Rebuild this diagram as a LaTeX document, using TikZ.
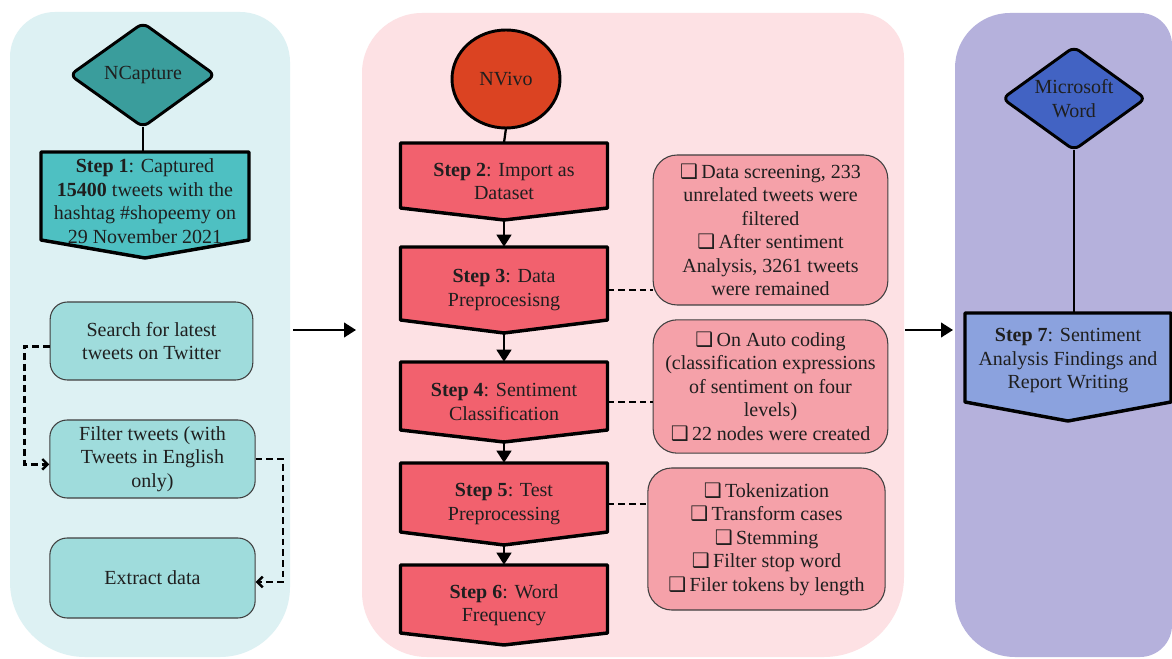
\documentclass[tikz,border=0pt]{standalone}
\usepackage{fontspec}
\setmainfont{Liberation Serif}
\newfontfamily\dvfont{DejaVu Sans}
\usetikzlibrary{arrows.meta,calc}
\definecolor{leftbg}{HTML}{DDF1F3}
\definecolor{midbg}{HTML}{FDE1E4}
\definecolor{rightbg}{HTML}{B5B1DC}
\definecolor{ncapc}{HTML}{3A9D9C}
\definecolor{stepone}{HTML}{4EC0C2}
\definecolor{softcyan}{HTML}{9FDCDC}
\definecolor{nvivoc}{HTML}{DB4322}
\definecolor{stepred}{HTML}{F2616E}
\definecolor{notec}{HTML}{F5A1A9}
\definecolor{wordc}{HTML}{4263C3}
\definecolor{stepblue}{HTML}{8BA2DE}
\newcommand\chk{{\dvfont\fontsize{15}{15}\selectfont\char"2751}\,}
\tikzset{
  txt/.style={font=\fontsize{15}{17.6}\selectfont, text=black!88, align=center},
  stepline/.style={draw=black, line width=2.6pt, line join=round},
  shapeline/.style={draw=black, line width=2.2pt, line join=round},
  steptext/.style={txt, inner sep=0pt, draw=none},
  softbox/.style={txt, draw=black!75, line width=0.8pt, inner sep=2pt},
  flow/.style={line width=1.7pt, -{Triangle[length=9pt,width=11pt]}},
  link/.style={line width=1.7pt},
  dashlink/.style={line width=1.8pt, dash pattern=on 5pt off 3pt},
  barb/.style={-{Straight Barb[length=4pt,width=8pt]}},
}
% name, cx, top, tip, halfwidth, depth, fill, text, node options
\newcommand\flowstep[9]{%
  \draw[stepline,fill=#7] ({#2-#5},#3) -- ({#2+#5},#3) -- ({#2+#5},{#4-#6}) -- (#2,#4) -- ({#2-#5},{#4-#6}) -- cycle;
  \node[steptext,minimum width={2*#5*0.75pt},minimum height={(#4-#3)*0.75pt}] (#1) at (#2,{(#3+#4)/2}) {};
  \node[steptext,#9] at (#1.center) {#8};
}
% colour, x1, y1, x2, y2, rTL, rTR, rBR, rBL
\newcommand\panelbg[9]{%
  \fill[#1] ({#2+#6},#3) -- ({#4-#7},#3) .. controls ({#4-0.448*#7},#3) and (#4,{#3+0.448*#7}) .. (#4,{#3+#7})
    -- (#4,{#5-#8}) .. controls (#4,{#5-0.448*#8}) and ({#4-0.448*#8},#5) .. ({#4-#8},#5)
    -- ({#2+#9},#5) .. controls ({#2+0.448*#9},#5) and (#2,{#5-0.448*#9}) .. (#2,{#5-#9})
    -- (#2,{#3+#6}) .. controls (#2,{#3+0.448*#6}) and ({#2+0.448*#6},#3) .. cycle;
}
\begin{document}
\begin{tikzpicture}[x=0.75pt,y=-0.75pt]
\useasboundingbox (0,0) rectangle (1172,659);
\fill[white] (0,0) rectangle (1172,659);
% panels
\panelbg{leftbg}{10}{12}{290}{657}{45}{50}{70}{75}
\panelbg{midbg}{362}{13}{904}{657}{60}{45}{80}{65}
\panelbg{rightbg}{955}{13}{1172}{657}{55}{32}{32}{60}

% left panel
\draw[shapeline,fill=ncapc,rounded corners=5pt] (143,23) -- (215,75) -- (143,127) -- (70,75) -- cycle;
\node[txt,inner sep=0pt,minimum width=108pt,minimum height=78pt] (ncap) at (143,75) {NCapture};
\flowstep{s1}{145}{152}{258}{104}{18}{stepone}{\textbf{Step 1}: Captured\\ \textbf{15400} tweets with the\\ hashtag \#shopeemy on\\ 29 November 2021}{yshift=3pt}
\draw[link] (ncap.south) -- (ncap.south |- s1.north);

\node[softbox, fill=softcyan, rounded corners=13pt, minimum width=152pt, minimum height=58.5pt] (search) at (151.5,341) {Search for latest\\ tweets on Twitter};
\node[softbox, fill=softcyan, rounded corners=13pt, minimum width=154pt, minimum height=58.5pt] (filter) at (152.5,459) {Filter tweets (with\\ Tweets in English\\ only)};
\node[softbox, fill=softcyan, rounded corners=13pt, minimum width=154pt, minimum height=60pt] (extract) at (152.5,578) {Extract data};
\draw[dashlink, barb] ([yshift=-4pt]search.west) -- ++(-25,0) |- ([yshift=-4pt]filter.west);
\draw[dashlink, barb] (filter.east) -- ++(27,0) |- ([yshift=-3pt]extract.east);

% middle panel
\draw[shapeline, fill=nvivoc] (506,79) ellipse [x radius=54, y radius=49];
\node[txt, inner sep=0pt, minimum width=81pt, minimum height=73.5pt] (nvivo) at (506,79) {NVivo};
\flowstep{s2}{504}{143}{220}{103.5}{12}{stepred}{\textbf{Step 2}: Import as\\ Dataset}{}
\flowstep{s3}{504}{247}{333}{103.5}{13}{stepred}{\textbf{Step 3}: Data\\ Preprocesisng}{}
\flowstep{s4}{504}{362}{442}{103.5}{12}{stepred}{\textbf{Step 4}: Sentiment\\ Classification}{}
\flowstep{s5}{504}{463}{545}{103.5}{13}{stepred}{\textbf{Step 5}: Test\\ Preprocessing}{}
\flowstep{s6}{504}{565}{645}{103.5}{12}{stepred}{\textbf{Step 6}: Word\\ Frequency}{}
\draw[link] (nvivo.south) -- (s2.north);
\draw[flow] (s2.south) -- (s3.north);
\draw[flow] (s3.south) -- (s4.north);
\draw[flow] (s4.south) -- (s5.north);
\draw[flow] (s5.south) -- (s6.north);

\node[softbox, fill=notec, rounded corners=18pt, minimum width=176pt, minimum height=112.5pt] (n1) at (770.5,230) {\chk Data screening, 233\\ unrelated tweets were\\ filtered\\ \chk After sentiment\\ Analysis, 3261 tweets\\ were remained};
\node[softbox, fill=notec, rounded corners=18pt, minimum width=176pt, minimum height=100pt] (n2) at (770.5,386.5) {\chk On Auto coding\\ (classification expressions\\ of sentiment on four\\ levels)\\ \chk 22 nodes were created};
\node[softbox, fill=notec, rounded corners=18pt, minimum width=178pt, minimum height=106.5pt] (n3) at (766.5,539) {\chk Tokenization\\ \chk Transform cases\\ \chk Stemming\\ \chk Filter stop word\\ \chk Filer tokens by length};
\draw[dashlink] (s3.east) -- (s3.east -| n1.west);
\draw[dashlink] (s4.east) -- (s4.east -| n2.west);
\draw[dashlink] (s5.east) -- (s5.east -| n3.west);

% right panel
\draw[shapeline,fill=wordc,rounded corners=5pt] (1074,47) -- (1145.5,98.5) -- (1074,150) -- (1002.5,98.5) -- cycle;
\node[txt,inner sep=0pt,minimum width=107pt,minimum height=77pt] (word) at (1074,98.5) {Microsoft\\ Word};
\flowstep{s7}{1068}{313}{421}{103}{19}{stepblue}{\textbf{Step 7}: Sentiment\\ Analysis Findings and\\ Report Writing}{yshift=4.5pt}
\draw[link] (word.south) -- (word.south |- s7.north);

% panel arrows
\coordinate (a1s) at (293,330);
\coordinate (a1e) at (356,330);
\coordinate (a2s) at (905,330);
\coordinate (a2e) at (953,330);
\draw[flow] (a1s) -- (a1e);
\draw[flow] (a2s) -- (a2e);
\end{tikzpicture}
\end{document}
